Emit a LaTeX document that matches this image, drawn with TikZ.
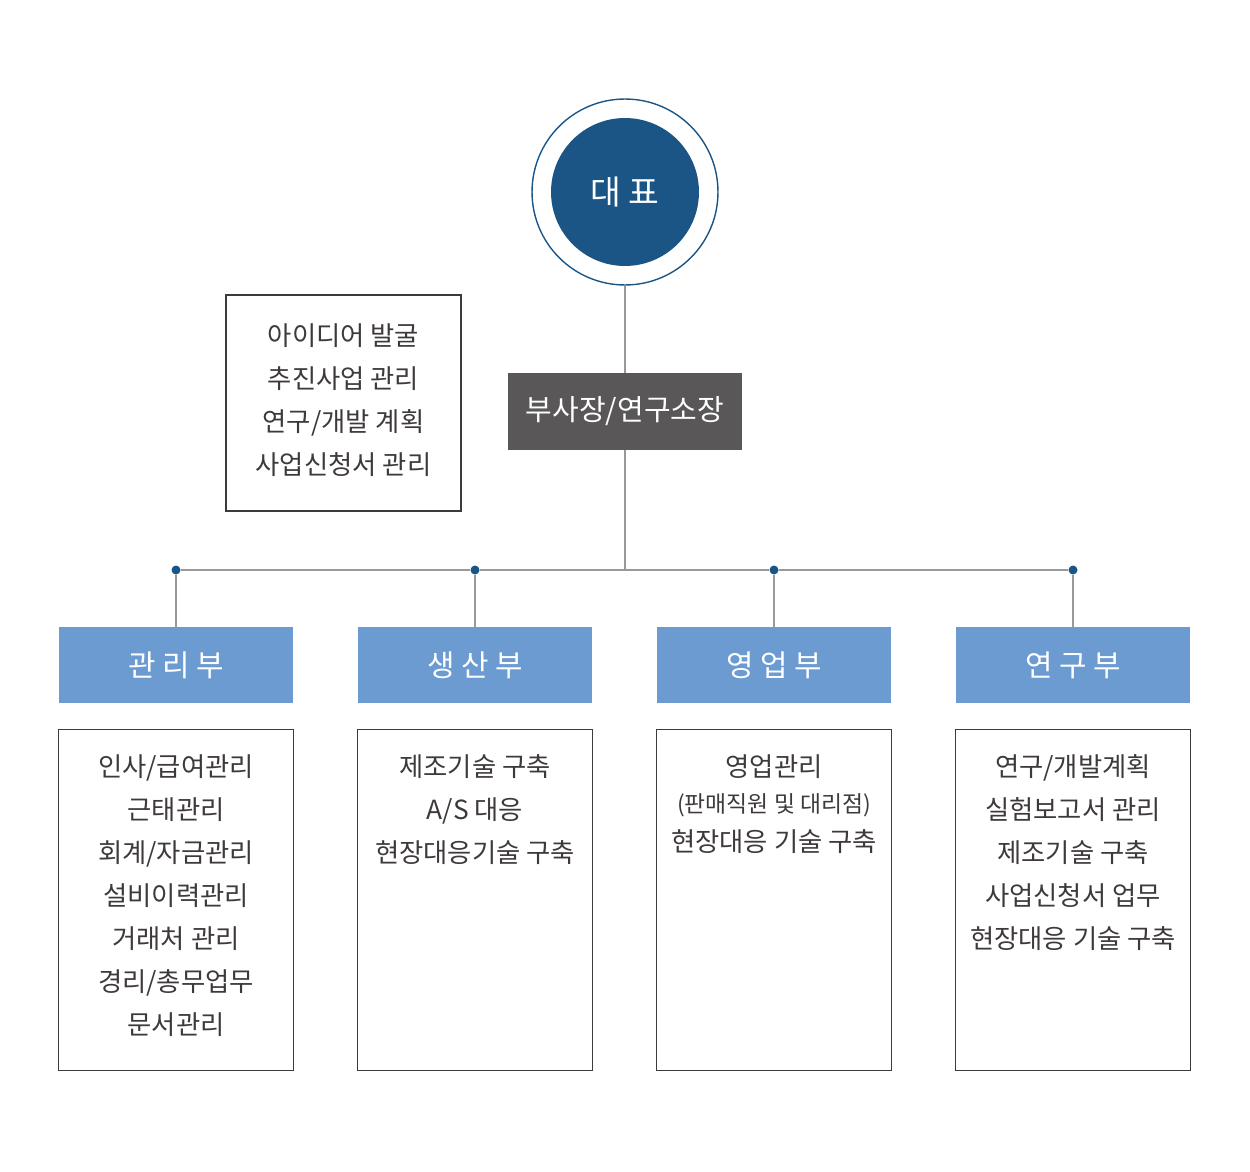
\documentclass[tikz,border=0pt]{standalone}
\usepackage{fontspec}
\setmainfont{Noto Sans CJK KR}
\usetikzlibrary{positioning}
\definecolor{ceoblue}{HTML}{1B5586}
\definecolor{vicegray}{HTML}{595757}
\definecolor{deptblue}{HTML}{6B9BD1}
\definecolor{txtgray}{HTML}{3E3A39}
\tikzset{
  dept/.style={rectangle, fill=deptblue, text=white, minimum width=4.7cm, minimum height=1.52cm, font=\fontsize{17}{20}\selectfont},
  taskbox/.style={rectangle, draw=txtgray, semithick, minimum width=4.7cm, minimum height=6.82cm, anchor=north},
  tasktext/.style={text=txtgray, align=center, anchor=north, font=\fontsize{15}{24.5}\selectfont},
  wire/.style={draw=gray!80, semithick},
  dot/.style={circle, fill=ceoblue, inner sep=0pt, minimum size=0.18cm}
}
\begin{document}
\begin{tikzpicture}[x=0.02cm, y=-0.02cm]
		\useasboundingbox (0,0) rectangle (1250,1172);
		
		\node[circle, draw=ceoblue, thick, minimum size=3.72cm] (CO) at (625,192) {};
		\node[circle, fill=ceoblue, text=white, minimum size=2.96cm, font=\fontsize{19}{22}\selectfont] (CEO) at (625,192) {대 표};
		\node[rectangle, fill=vicegray, text=white, minimum width=4.68cm, minimum height=1.54cm, font=\fontsize{16.5}{20}\selectfont] (VP) at (625,411.5) {부사장/연구소장};
		\node[rectangle, draw=txtgray, semithick, minimum width=4.7cm, minimum height=4.32cm] (NOTE) at (343.5,403) {};
		\node[tasktext] (NOTET) at (343.5,317) {아이디어 발굴\\추진사업 관리\\연구/개발 계획\\사업신청서 관리};
		
		\coordinate (J) at (625,570);
		\draw[wire] (CO) -- (VP);
		\draw[wire] (VP) -- (J);
		
		\node[dept] (D1) at (176,665) {관 리 부};
		\node[dept] (D2) at (475,665) {생 산 부};
		\node[dept] (D3) at (774,665) {영 업 부};
		\node[dept] (D4) at (1073,665) {연 구 부};
		
		\foreach \d/\x in {1/176, 2/475, 3/774, 4/1073}
		{
			\node[dot] (P\d) at (\x,570) {};
			\draw[wire] (P\d) -- (D\d);
			\node[taskbox] (T\d) at (\x,729) {};
		}
		\draw[wire] (P1) -- (P2) -- (P3) -- (P4);
		
		\node[tasktext] (X1) at (176,748) {인사/급여관리\\근태관리\\회계/자금관리\\설비이력관리\\거래처 관리\\경리/총무업무\\문서관리};
		\node[tasktext] (X2) at (475,748) {제조기술 구축\\A/S 대응\\현장대응기술 구축};
		\node[tasktext] (X3) at (774,748) {영업관리\\[-4pt]{\fontsize{13}{15}\selectfont (판매직원 및 대리점)}\\[-2pt]현장대응 기술 구축};
		\node[tasktext] (X4) at (1073,748) {연구/개발계획\\실험보고서 관리\\제조기술 구축\\사업신청서 업무\\현장대응 기술 구축};
	\end{tikzpicture}
\end{document}
